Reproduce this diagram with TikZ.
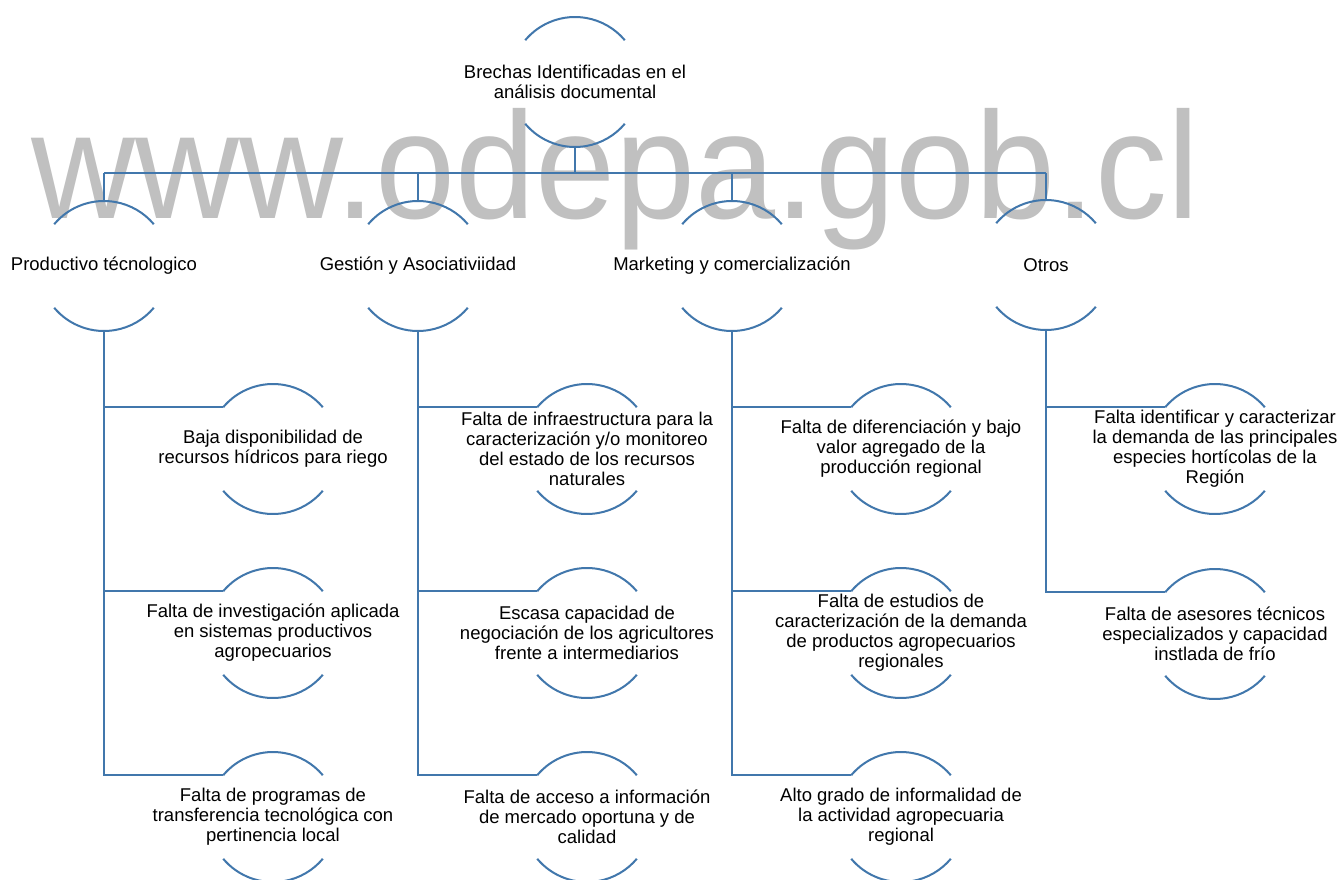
\documentclass[tikz,border=0pt]{standalone}
\usepackage{fontspec}
\setmainfont{Liberation Sans}
\definecolor{lineblue}{RGB}{65,119,172}
\definecolor{wmgray}{RGB}{192,192,192}
\begin{document}
\begin{tikzpicture}[x=1pt,y=1pt,
  txt/.style={align=center, font=\fontsize{18.5}{20}\selectfont, inner sep=0pt, text=black},
  arcline/.style={draw=lineblue, line width=2pt},
  conn/.style={draw=lineblue, line width=2pt},
  busline/.style={draw=lineblue, line width=2.6pt}]
\useasboundingbox (0,0) rectangle (1341,-880);
\fill[white] (0,0) rectangle (1341,-880);
% watermark
\node[anchor=base west, inner sep=0pt, text=wmgray, font=\fontsize{152}{155}\selectfont] (wm) at (31,-218) {\scalebox{0.947}[1]{www.odepa.gob.cl}};
% root
\node[txt] (r) at (575,-82) {Brechas Identificadas en el\\análisis documental};
% level 1
\node[txt] (a1) at (104,-266) {Productivo técnologico};
\node[txt] (a2) at (418,-266) {Gestión y Asociativiidad};
\node[txt] (a3) at (732,-266) {Marketing y comercialización};
\node[txt] (a4) at (1046,-265) {Otros};
% level 2
\node[txt] (b11) at (273,-449) {Baja disponibilidad de\\recursos hídricos para riego};
\node[txt] (b12) at (273,-633) {Falta de investigación aplicada\\en sistemas productivos\\agropecuarios};
\node[txt] (b13) at (273,-817) {Falta de programas de\\transferencia tecnológica con\\pertinencia local};
\node[txt] (b21) at (587,-449) {Falta de infraestructura para la\\caracterización y/o monitoreo\\del estado de los recursos\\naturales};
\node[txt] (b22) at (587,-633) {Escasa capacidad de\\negociación de los agricultores\\frente a intermediarios};
\node[txt] (b23) at (587,-817) {Falta de acceso a información\\de mercado oportuna y de\\calidad};
\node[txt] (b31) at (901,-449) {Falta de diferenciación y bajo\\valor agregado de la\\producción regional};
\node[txt] (b32) at (901,-633) {Falta de estudios de\\caracterización de la demanda\\de productos agropecuarios\\regionales};
\node[txt] (b33) at (901,-817) {Alto grado de informalidad de\\la actividad agropecuaria\\regional};
\node[txt] (b41) at (1215,-449) {Falta identificar y caracterizar\\la demanda de las principales\\especies hortícolas de la\\Región};
\node[txt] (b42) at (1215,-634) {Falta de asesores técnicos\\especializados y capacidad\\instlada de frío};
% bracket arcs and ports
\foreach \n in {r,a1,a2,a3,a4,b11,b12,b13,b21,b22,b23,b31,b32,b33,b41,b42} {
  \draw[arcline] ([shift={(140:65)}]\n.center) arc[start angle=140,end angle=40,radius=65];
  \draw[arcline] ([shift={(220:65)}]\n.center) arc[start angle=220,end angle=320,radius=65];
  \coordinate (\n-T) at ([shift={(90:65)}]\n.center);
  \coordinate (\n-B) at ([shift={(270:65)}]\n.center);
  \coordinate (\n-L) at ([shift={(140:65)}]\n.center);
}
% root bus
\coordinate (bus) at (575,-173);
\draw[conn] (r-B) -- (bus);
\draw[busline] (a1-T |- bus) -- (a4-T |- bus);
\foreach \a in {a1,a2,a3,a4} {\draw[conn] (\a-T) -- (\a-T |- bus);}
% children
\foreach \c in {b11,b12,b13} {\draw[conn] (a1-B) |- (\c-L);}
\foreach \c in {b21,b22,b23} {\draw[conn] (a2-B) |- (\c-L);}
\foreach \c in {b31,b32,b33} {\draw[conn] (a3-B) |- (\c-L);}
\foreach \c in {b41,b42} {\draw[conn] (a4-B) |- (\c-L);}
\end{tikzpicture}
\end{document}
